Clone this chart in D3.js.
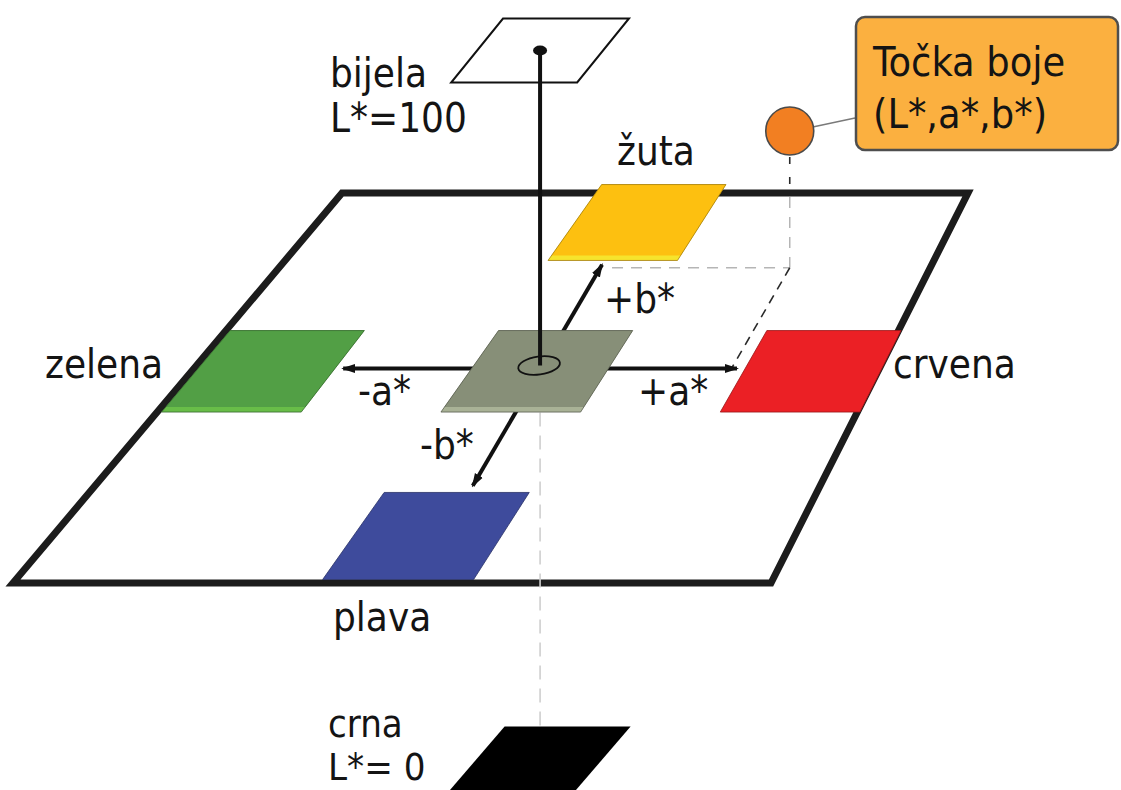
<!DOCTYPE html>
<html><head><meta charset="utf-8">
<script src="https://cdn.jsdelivr.net/npm/d3@7"></script>
<style>
html,body{margin:0;padding:0;background:#fff;}
svg{display:block;}
text{font-family:'DejaVu Sans Condensed','DejaVu Sans',sans-serif;font-stretch:condensed;fill:#141414;}
</style></head><body>
<svg id="c" width="1121" height="790"></svg>
<script>
// ---------- data ----------
const swatchNames  = ['zelena', 'crvena', 'žuta', 'plava', 'siva'];
const swatchA      = [-100, 100, 0, 0, 0];
const swatchB      = [0, 0, 100, -100, 0];
const swatchColors = ['#529f45', '#eb2025', '#fdc010', '#3e4b9c', '#878f78'];
const swatchEdges  = ['#68bd48', null, '#f6e42c', null, '#a9b296'];
const levelNames   = ['bijela', 'crna'];
const levelL       = [100, 0];
const levelLabels  = ['L*=100', 'L*= 0'];
const levelColors  = ['#ffffff', '#000000'];
const aAxisRange   = [-72, 72];
const bAxisA       = [-3, 4];
const bAxisB       = [71, -70];
const axisLabels   = ['-a*', '+a*', '-b*', '+b*'];
const pointLab     = [71.5, 70, 69];   // L*, a*, b*
const calloutLines = ['Točka boje', '(L*,a*,b*)'];

// ---------- scales / projection ----------
const svg = d3.select('#c');
const sScale = d3.scaleLinear().domain([-100, 100]).range([0.106, 0.904]);
const yScale = d3.scaleLinear().domain([-100, 0, 100]).range([536, 368.5, 222.5]);
const lOff   = d3.scaleLinear().domain([0, 50, 100]).range([390, 0, -318]);
const PT = 193, PB = 583, PTL = 342, PBL = 13, PTR = 968, PBR = 771;
function edgeX(y){ const t = (y - PT) / (PB - PT); return [PTL + (PBL - PTL) * t, PTR + (PBR - PTR) * t]; }
function proj(a, b){ const y = yScale(b); const [l, r] = edgeX(y); return [l + (r - l) * sScale(a), y]; }
const line = d3.line();

// defs: arrows
const defs = svg.append('defs');
defs.append('marker').attr('id','arr').attr('viewBox','0 -5 14 10').attr('refX',12).attr('refY',0)
  .attr('markerWidth',14).attr('markerHeight',10).attr('markerUnits','userSpaceOnUse').attr('orient','auto')
  .append('path').attr('d','M0,-4.5L14,0L0,4.5Z').attr('fill','#111');
defs.append('marker').attr('id','arrS').attr('viewBox','0 -5 14 10').attr('refX',12).attr('refY',0)
  .attr('markerWidth',14).attr('markerHeight',10).attr('markerUnits','userSpaceOnUse').attr('orient','auto-start-reverse')
  .append('path').attr('d','M0,-4.5L14,0L0,4.5Z').attr('fill','#111');

// plane
const plane = [[PTL,PT],[PTR,PT],[PBR,PB],[PBL,PB]];
svg.append('path').attr('d', line(plane) + 'Z').attr('fill','#fff').attr('stroke','#1c1c1c')
  .attr('stroke-width',7).attr('stroke-linejoin','miter');

// center vertical dashed (L axis below plane)
const c0 = proj(0, 0);
svg.append('line').attr('x1',c0[0]).attr('y1',c0[1]+44).attr('x2',c0[0]).attr('y2',c0[1]+lOff(0)-30)
  .attr('stroke','#cfcfcf').attr('stroke-width',1.6).attr('stroke-dasharray','14,9');

// point projections
const [pL, pA, pB] = pointLab;
const foot = proj(pA, pB);
const footB0 = proj(pA, 0);
const footA0 = proj(bAxisA[0], pB);
const pc = [foot[0], foot[1] + lOff(pL) - lOff(50)];
// light dashes on plane
svg.append('line').attr('x1',footA0[0]+12).attr('y1',foot[1]).attr('x2',foot[0]).attr('y2',foot[1])
  .attr('stroke','#b5b5b5').attr('stroke-width',1.5).attr('stroke-dasharray','11,8');
svg.append('line').attr('x1',foot[0]).attr('y1',PT+4).attr('x2',foot[0]).attr('y2',foot[1])
  .attr('stroke','#b5b5b5').attr('stroke-width',1.5).attr('stroke-dasharray','11,9');
// dark dashes
svg.append('line').attr('x1',foot[0]).attr('y1',foot[1]).attr('x2',footB0[0]).attr('y2',footB0[1])
  .attr('stroke','#2a2a2a').attr('stroke-width',1.6).attr('stroke-dasharray','9,7');
svg.append('line').attr('x1',pc[0]).attr('y1',pc[1]+26).attr('x2',pc[0]).attr('y2',PT)
  .attr('stroke','#2a2a2a').attr('stroke-width',1.6).attr('stroke-dasharray','7,13');

// axes
const aS = proj(aAxisRange[0], 0), aE = proj(aAxisRange[1], 0);
svg.append('line').attr('x1',aS[0]).attr('y1',aS[1]).attr('x2',aE[0]).attr('y2',aE[1])
  .attr('stroke','#111').attr('stroke-width',4).attr('marker-start','url(#arrS)').attr('marker-end','url(#arr)');
const bA = proj(bAxisA[0], bAxisB[0]), bB = proj(bAxisA[1], bAxisB[1]);
svg.append('line').attr('x1',bA[0]).attr('y1',bA[1]).attr('x2',bB[0]).attr('y2',bB[1])
  .attr('stroke','#111').attr('stroke-width',4).attr('marker-start','url(#arrS)').attr('marker-end','url(#arr)');

// swatches
const HA = 25, HB = 26, STRIP = 5;
swatchNames.forEach((n, i) => {
  const a = swatchA[i], b = swatchB[i];
  const q = [proj(a-HA, b+HB), proj(a+HA, b+HB), proj(a+HA, b-HB), proj(a-HA, b-HB)];
  const col = swatchColors[i];
  const g = svg.append('g');
  if (swatchEdges[i]) {
    g.append('path').attr('d', line(q)+'Z').attr('fill', swatchEdges[i]);
    const lerp = (p, r, f) => [p[0] + (r[0]-p[0])*f, p[1] + (r[1]-p[1])*f];
    const f = STRIP / (q[3][1] - q[0][1]);
    const face = [q[0], q[1], lerp(q[2], q[1], f), lerp(q[3], q[0], f)];
    g.append('path').attr('d', line(face)+'Z').attr('fill', col);
    g.append('path').attr('d', line(q)+'Z').attr('fill','none').attr('stroke', d3.color(col).darker(1.2)).attr('stroke-width',1).attr('stroke-opacity',0.8);
  } else {
    g.append('path').attr('d', line(q)+'Z').attr('fill', col).attr('stroke', d3.color(col).darker(1.2)).attr('stroke-width',1).attr('stroke-opacity',0.8);
  }
});

// level swatches (white, black)
levelNames.forEach((n, i) => {
  const cy = c0[1] + lOff(levelL[i]);
  const hw = 63, hh = 32, k = i === 0 ? -0.81 : -0.86;
  const q = [[c0[0]-hw-k*hh, cy-hh],[c0[0]+hw-k*hh, cy-hh],[c0[0]+hw+k*hh, cy+hh],[c0[0]-hw+k*hh, cy+hh]];
  svg.append('path').attr('d', line(q)+'Z').attr('fill', levelColors[i])
    .attr('stroke','#111').attr('stroke-width', i === 0 ? 2 : 0);
});

// L axis line, ellipse, dot
const yTop = c0[1] + lOff(100);
svg.append('line').attr('x1',c0[0]).attr('y1',yTop).attr('x2',c0[0]).attr('y2',c0[1]-3)
  .attr('stroke','#111').attr('stroke-width',4);
svg.append('ellipse').attr('cx',c0[0]-1).attr('cy',c0[1]-3).attr('rx',21).attr('ry',9)
  .attr('transform',`rotate(-8 ${c0[0]-1} ${c0[1]-3})`).attr('fill','none').attr('stroke','#111').attr('stroke-width',1.8);
svg.append('ellipse').attr('cx',c0[0]).attr('cy',yTop).attr('rx',7).attr('ry',5).attr('fill','#111');

// point + callout
svg.append('line').attr('x1',pc[0]+23).attr('y1',pc[1]-4).attr('x2',855).attr('y2',118)
  .attr('stroke','#7a7a7a').attr('stroke-width',1.5);
svg.append('circle').attr('cx',pc[0]).attr('cy',pc[1]).attr('r',24).attr('fill','#f27f22')
  .attr('stroke','#4a4a4a').attr('stroke-width',1.6);
svg.append('rect').attr('x',856).attr('y',17).attr('width',262).attr('height',133).attr('rx',9)
  .attr('fill','#fbb040').attr('stroke','#4e4e4e').attr('stroke-width',2.5);
calloutLines.forEach((t, i) => svg.append('text').attr('x',873).attr('y',76 + i*52).attr('font-size',41).text(t));

// labels
const FS = 40;
const lab = (t, x, y, fs) => svg.append('text').attr('x',x).attr('y',y).attr('font-size',fs || FS).text(t);
lab(levelNames[0], 330, 87); lab(levelLabels[0], 330, 132);
lab(levelNames[1], 328, 737, 38); lab(levelLabels[1], 328, 780, 38);
lab(swatchNames[0], 45, 378);
lab(swatchNames[1], 893, 378);
lab(swatchNames[2], 617, 165);
lab(swatchNames[3], 333, 631);
lab(axisLabels[0], 358, 405);
lab(axisLabels[1], 638, 405);
lab(axisLabels[2], 420, 459);
lab(axisLabels[3], 604, 313);
</script>
</body></html>
